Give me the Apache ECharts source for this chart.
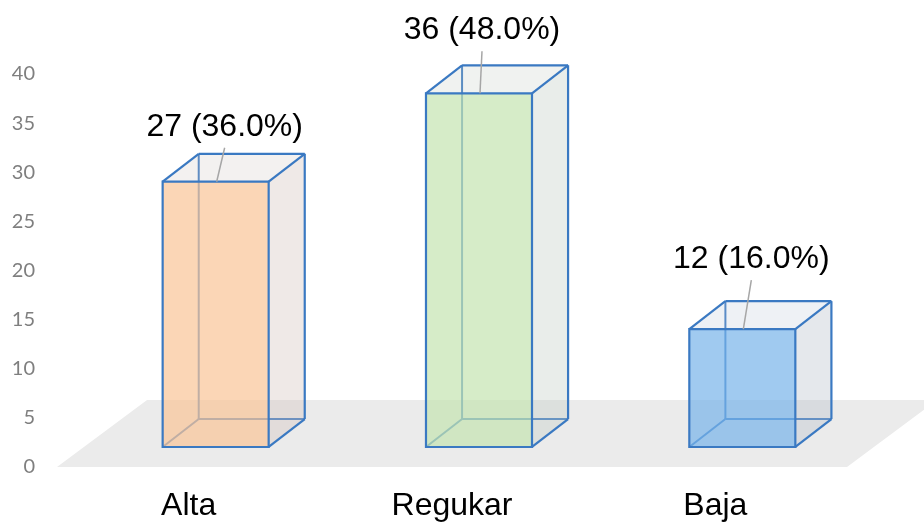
<!DOCTYPE html>
<html><head><meta charset="utf-8">
<script src="https://cdn.jsdelivr.net/npm/echarts@6/dist/echarts.min.js"></script>
<style>html,body{margin:0;padding:0;background:#fff}#c{width:924px;height:522px}</style>
</head><body><div id="c"></div>
<script>
const categories = ['Alta', 'Regukar', 'Baja'];
const counts = [27, 36, 12];
const percents = [36.0, 48.0, 16.0];
const yMin = 0, yMax = 40, yInterval = 5;

// styles
const frontColors = ['rgba(249,196,151,0.7)', 'rgba(196,228,176,0.7)', 'rgba(119,179,234,0.7)'];
const sideColors = ['rgba(209,192,186,0.35)', 'rgba(192,204,195,0.35)', 'rgba(181,189,201,0.35)'];
const topColors = ['rgba(207,199,195,0.25)', 'rgba(195,203,195,0.25)', 'rgba(187,199,215,0.25)'];
const labelOffsets = [[9, -55], [3, -63], [9, -70]];
const EDGE = '#3a79c2';
const LABEL_FONT = '32px "Liberation Sans", Arial, sans-serif';

function line(a, b, c, d, color, w) {
  return { type: 'line', shape: { x1: a, y1: b, x2: c, y2: d }, style: { stroke: color, lineWidth: w } };
}

function renderFloor(params, api) {
  const cs = params.coordSys;
  const bw = cs.width / categories.length;
  const fx = 0.342 * bw, fy = 0.254 * bw;
  const y = cs.y + cs.height;
  return {
    type: 'polygon',
    shape: { points: [[cs.x, y], [cs.x + cs.width, y], [cs.x + cs.width + fx, y - fy], [cs.x + fx, y - fy]] },
    style: { fill: '#ebebeb' }
  };
}

function renderBox(params, api) {
  const i = api.value(0), v = api.value(1);
  const bw = api.size([1, 0])[0];
  const p0 = api.coord([i, 0]);
  const pv = api.coord([i, v]);
  const xc = p0[0], yb = p0[1], h = yb - pv[1];
  const ox = 0.1025 * bw, oy = 0.076 * bw;
  const dx = 0.137 * bw, dy = 0.106 * bw;
  const w = 0.4026 * bw;
  const fl = xc + ox - w / 2, fr = fl + w, fb = yb - oy, ft = fb - h;
  const bl = fl + dx, br = fr + dx, bb = fb - dy, bt = ft - dy;
  const cx = (fl + fr) / 2;
  const off = labelOffsets[i];
  const lx = cx + off[0], ly = ft + off[1];
  return {
    type: 'group',
    children: [
      line(bl, bb, bl, bt, EDGE, 2),
      line(bl, bb, br, bb, EDGE, 2),
      line(fl, fb, bl, bb, EDGE, 2),
      { type: 'polygon', shape: { points: [[fr, fb], [br, bb], [br, bt], [fr, ft]] }, style: { fill: sideColors[i] } },
      { type: 'polygon', shape: { points: [[fl, ft], [fr, ft], [br, bt], [bl, bt]] }, style: { fill: topColors[i] } },
      { type: 'rect', shape: { x: fl, y: ft, width: w, height: h }, style: { fill: frontColors[i] } },
      { type: 'rect', shape: { x: fl, y: ft, width: w, height: h }, style: { fill: 'none', stroke: EDGE, lineWidth: 2.2 } },
      line(bl, bt, br, bt, EDGE, 2.2),
      line(fl, ft, bl, bt, EDGE, 2.2),
      line(fr, ft, br, bt, EDGE, 2.2),
      line(br, bt, br, bb, EDGE, 2.2),
      line(fr, fb, br, bb, EDGE, 2.2),
      line(lx, ly + 21, cx + 1, ft, '#a6a6a6', 1.5),
      {
        type: 'text',
        style: {
          text: counts[i] + ' (' + percents[i].toFixed(1) + '%)',
          x: lx, y: ly, align: 'center', verticalAlign: 'middle',
          font: LABEL_FONT, fill: '#000'
        }
      }
    ]
  };
}

const chart = echarts.init(document.getElementById('c'), null, { renderer: 'canvas' });
chart.setOption({
  animation: false,
  backgroundColor: '#fff',
  grid: { left: 57, right: 77, top: 74, bottom: 55, containLabel: false },
  xAxis: {
    type: 'category',
    data: categories,
    axisLine: { show: false },
    axisTick: { show: false },
    axisLabel: { fontSize: 32, color: '#000', fontFamily: '"Liberation Sans", Arial, sans-serif', margin: 23 }
  },
  yAxis: {
    type: 'value',
    min: yMin, max: yMax, interval: yInterval,
    axisLine: { show: false },
    axisTick: { show: false },
    splitLine: { show: false },
    axisLabel: { fontSize: 20, color: '#7f7f7f', fontFamily: 'Lato, sans-serif', margin: 22 }
  },
  series: [
    { type: 'custom', renderItem: renderFloor, data: [[0, 0]], z: 1, silent: true },
    { type: 'custom', renderItem: renderBox, data: counts.map((v, i) => [i, v]), encode: { x: 0, y: 1 }, z: 2 }
  ]
});
</script>
</body></html>
